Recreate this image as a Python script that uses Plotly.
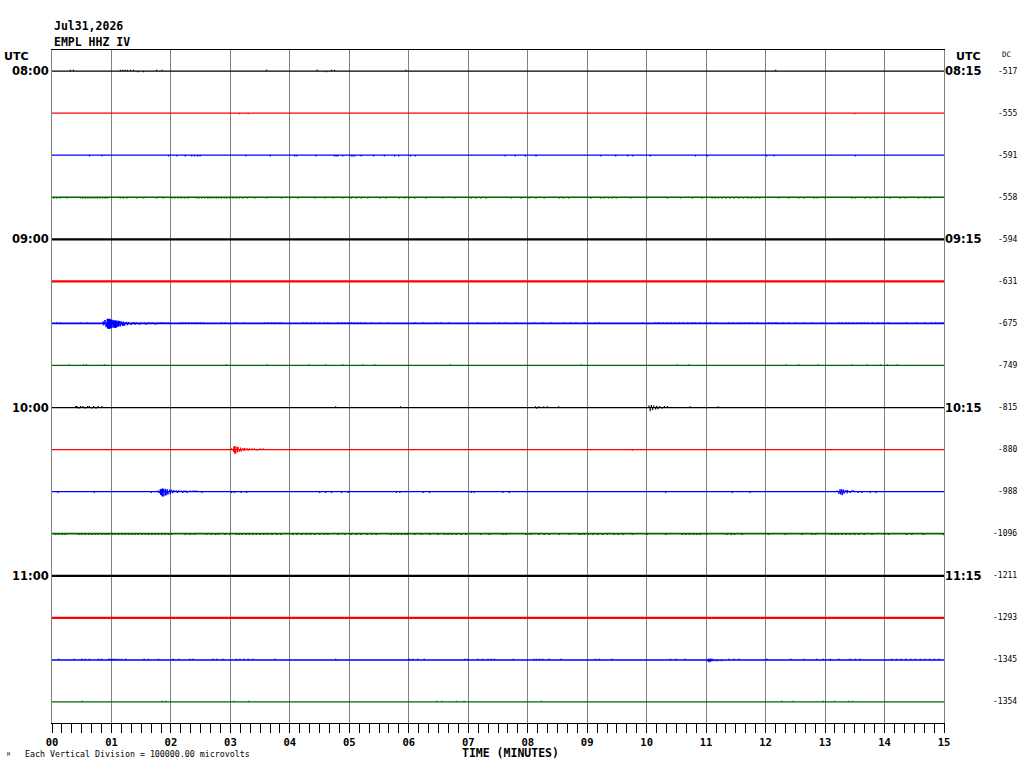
import plotly.graph_objects as go

# ---------------- data ----------------
DATE_TEXT = "Jul31,2026"
STATION_TEXT = "EMPL HHZ IV"
NOTE_TEXT = "Each Vertical Division = 100000.00 microvolts"
X_TITLE = "TIME (MINUTES)"
MICROVOLTS_PER_DIV = 100000
N_ROWS = 16
N_MINUTES = 15

LEFT_LABEL_ROWS = [0, 4, 8, 12]
LEFT_LABELS = ["08:00", "09:00", "10:00", "11:00"]
RIGHT_LABELS = ["08:15", "09:15", "10:15", "11:15"]
DC_VALUES = [-517, -555, -591, -558, -594, -631, -675, -749,
             -815, -880, -988, -1096, -1211, -1293, -1345, -1354]
MINUTE_TICKS = list(range(16))
MINUTE_LABELS = ["00", "01", "02", "03", "04", "05", "06", "07",
                 "08", "09", "10", "11", "12", "13", "14", "15"]

# trace excursions per row: (minute, microvolts)
TRACE_0800 = [(0.31, 3000), (0.36, 3000), (1.15, 3000), (1.19, 3000), (1.23, 3000),
              (1.27, 3000), (1.32, 3000), (1.37, 3000), (1.44, -3000), (1.54, -3000),
              (1.76, 3000), (1.85, 3000), (3.61, 3000), (4.46, 3000), (4.61, -3000),
              (4.70, 3000), (4.75, 3000), (5.95, 3000), (12.17, 3000)]
TRACE_0815 = [(3.15, -3000), (3.30, -3000), (13.50, -3000)]
TRACE_0830 = [(t, -3000) for t in [
    0.63, 0.84, 1.96, 2.10, 2.24, 2.35, 2.40, 2.45, 2.49, 3.26, 3.67, 4.08, 4.12, 4.44,
    4.75, 4.78, 4.81, 4.89, 5.03, 5.06, 5.09, 5.20, 5.41, 5.59, 5.76, 5.83, 6.03, 6.11,
    7.62, 7.79, 7.96, 8.14, 9.23, 9.48, 9.68, 9.77, 10.06, 10.82, 11.02, 12.02, 12.14, 13.51]]
TRACE_0845 = [(t, -2800) for t in [
    0.03, 0.08, 0.14, 0.25, 0.48, 0.52, 0.56, 0.60, 0.64, 0.68, 0.72, 0.76, 0.80, 0.85,
    0.89, 0.93, 1.15, 1.20, 1.26, 1.43, 1.54, 1.76, 1.87, 2.01, 2.06, 2.12, 2.17, 2.23,
    2.29, 2.43, 2.47, 2.52, 2.57, 2.62, 2.66, 2.71, 2.76, 2.80, 2.85, 2.90, 2.94, 2.99,
    3.05, 3.10, 3.15, 3.21, 3.28, 3.41, 3.61, 3.86, 4.00, 4.14, 4.42, 4.59, 4.73, 4.89,
    5.03, 5.12, 5.20, 5.31, 5.51, 5.62, 5.84, 5.93, 6.01, 6.10, 6.29, 6.57, 6.77, 7.05,
    7.13, 7.21, 7.30, 7.72, 7.89, 8.03, 8.14, 8.28, 8.53, 8.60, 8.69, 9.06, 9.23, 9.29,
    9.36, 9.42, 9.49, 9.73, 10.01, 10.35, 10.57, 10.77, 10.93, 11.10, 11.15, 11.20,
    11.27, 11.33, 11.40, 11.47, 11.55, 11.62, 11.70, 11.76, 11.83, 11.90, 12.22, 12.39,
    12.56, 12.64, 12.81, 12.87, 13.00, 13.45, 13.51, 13.67, 13.76, 13.87, 14.09, 14.26,
    14.35, 14.57, 14.68, 14.76]]
TRACE_0900 = [(0.5, -2400), (2.3, 2400), (4.1, -2400), (6.9, 2400), (9.4, -2400), (12.6, 2400)]
TRACE_0915 = [(0.2, -2400), (1.8, 2400), (3.4, -2400), (7.2, -2400), (10.8, 2400), (13.9, -2400)]
TRACE_0930 = [(0.86, 4500), (0.87, -4500), (0.89, 8000), (0.91, -9000), (0.93, 11000),
              (0.94, -12500), (0.95, 11000), (0.96, -13000), (0.97, 11000), (0.98, -12500),
              (0.99, 9000), (1.00, -11000), (1.01, 8500), (1.03, -10000), (1.04, 7500),
              (1.05, -10500), (1.06, 7500), (1.07, -11000), (1.08, 7000), (1.09, -9000),
              (1.11, 6500), (1.12, -7500), (1.13, 5500), (1.15, -7000), (1.16, 5000),
              (1.19, -6000), (1.20, 4500), (1.22, -5500), (1.25, 4000), (1.27, -4500),
              (1.29, 3500), (1.33, -3500), (1.37, 3500), (1.40, -3000), (1.42, 3000),
              (1.47, -3000), (1.50, 3000), (1.55, 3000), (1.58, -3000), (1.62, 3000),
              (1.66, 3000), (1.70, 3000), (1.74, -3000), (1.78, 3000), (1.82, 3000),
              (1.85, 3000), (1.88, 3000), (1.92, 3000), (1.96, 3000)] + \
             [(t, 3000) for t in [
    0.08, 0.14, 0.48, 0.59, 2.15, 2.20, 2.25, 2.30, 2.35, 2.40, 2.45, 2.50, 2.55, 2.85,
    2.91, 3.10, 3.22, 3.58, 3.63, 3.69, 3.75, 3.81, 3.86, 4.22, 4.28, 4.36, 4.42, 4.50,
    4.58, 4.64, 4.81, 4.87, 4.92, 4.98, 5.03, 5.09, 5.15, 5.20, 5.26, 5.37, 5.51, 5.65,
    6.10, 6.24, 6.46, 6.54, 6.68, 7.16, 7.44, 7.52, 7.63, 7.80, 8.11, 8.25, 8.39, 8.61,
    8.72, 8.81, 8.95, 9.14, 9.20, 9.93, 10.15, 10.21, 10.28, 10.35, 10.41, 10.48, 10.55,
    10.62, 10.69, 10.77, 10.82, 10.90, 10.99, 11.07, 11.16, 11.38, 11.45, 11.53, 11.59,
    11.66, 11.72, 11.78, 11.86, 12.05, 12.10, 12.16, 12.20, 12.29, 12.39, 12.50, 12.64,
    12.78, 12.95, 13.23, 13.29, 13.35, 13.41, 13.47, 13.54, 13.60, 13.66, 13.72, 13.80,
    13.89, 13.97, 14.06, 14.37, 14.54, 14.68, 14.79, 14.86, 14.93, 14.98]]
TRACE_0945 = [(t, 3000) for t in [
    0.29, 0.53, 0.58, 0.88, 2.93, 3.62, 4.32, 4.60, 4.89, 5.23, 5.43, 6.70, 8.90, 10.51,
    10.71, 12.34, 12.56, 12.88, 13.46, 13.71, 13.93, 14.05, 14.21]]
TRACE_1000 = [(0.40, 3500), (0.42, 3500), (0.45, -3000), (0.48, 3500), (0.52, 3500),
              (0.56, -3000), (0.60, 3500), (0.63, 3500), (0.67, -3000), (0.70, 3500),
              (0.74, -3000), (0.78, 3500), (0.84, 3500), (4.77, 3000), (5.86, 3000),
              (8.13, 3000), (8.15, -3000), (8.19, 3000), (8.27, 3000), (8.33, 3000),
              (8.52, 3000), (10.04, 5000), (10.06, -9000), (10.08, 6000), (10.10, -6000),
              (10.12, 5000), (10.15, -4500), (10.17, 4000), (10.19, -4000), (10.22, 3500),
              (10.26, -3000), (10.30, 3500), (10.35, 3500), (10.73, 3000), (11.20, 3000)]
TRACE_1015 = [(3.02, 3000), (3.05, -5000), (3.06, 8000), (3.07, -9500), (3.08, 8500),
              (3.09, -9000), (3.11, 7000), (3.12, -6500), (3.13, 6000), (3.15, -5000),
              (3.17, 5000), (3.18, -5000), (3.21, 4000), (3.23, -3500), (3.24, 3500),
              (3.28, 3500), (3.30, -3000), (3.32, 3000), (3.36, 3000), (3.40, 3000),
              (3.45, -3000), (3.50, 3000), (3.55, 3000), (9.76, -3000)]
TRACE_1030 = [(0.10, -3000), (0.71, -3000), (1.67, -3000), (1.78, 3000), (1.80, -4000),
              (1.82, 6000), (1.83, -8000), (1.84, 7000), (1.85, -11000), (1.86, 7500),
              (1.87, -12000), (1.88, 7000), (1.90, -9500), (1.91, 6500), (1.92, -8500),
              (1.94, 5500), (1.95, -7000), (1.98, 5000), (1.99, -6000), (2.01, 4500),
              (2.03, -4000), (2.05, 4000), (2.09, 3500), (2.11, -3000), (2.13, 3500),
              (2.17, 3000), (2.20, -3000), (2.22, 3000), (2.25, 3000), (2.27, -3000),
              (2.32, 3000), (2.37, 3000), (2.40, 3000), (2.43, 3000), (2.52, -3000),
              (3.02, -3000), (3.07, -3000), (3.18, -3000), (3.27, -3000), (4.50, -3000),
              (4.60, -3000), (4.70, -3000), (4.87, -3000), (4.98, -3000), (5.79, -3000),
              (5.85, -3000), (6.24, -3000), (6.35, -3000), (7.05, -3000), (7.10, -3000),
              (7.58, -3000), (7.69, -3000), (10.32, -3000), (11.44, -3000), (11.74, -3000),
              (13.20, 3000), (13.23, -5000), (13.25, 6000), (13.26, -6500), (13.28, 6000),
              (13.29, -8500), (13.31, 5000), (13.32, -5000), (13.35, 4000), (13.37, -4000),
              (13.38, 3500), (13.42, -3000), (13.45, 3500), (13.48, 3500), (13.56, -3000),
              (13.62, -3000), (13.76, -3000), (13.86, -3000)]
TRACE_1045 = [(t, -2800) for t in [
    0.06, 0.11, 0.17, 0.22, 0.45, 0.50, 0.56, 0.62, 0.67, 0.73, 0.78, 0.84, 0.90, 0.95,
    1.01, 1.06, 1.12, 1.18, 1.23, 1.29, 1.34, 1.40, 1.45, 1.51, 1.57, 1.62, 1.68, 1.74,
    1.79, 1.85, 1.90, 1.96, 2.01, 2.24, 2.32, 2.40, 2.60, 2.68, 2.75, 2.80, 2.91, 2.99,
    3.10, 3.15, 3.20, 3.26, 3.32, 3.38, 3.44, 3.50, 3.56, 3.62, 3.70, 3.78, 3.85, 4.05,
    4.12, 4.20, 4.28, 4.35, 4.42, 4.50, 4.58, 4.64, 4.81, 4.92, 5.03, 5.12, 5.20, 5.30,
    5.38, 5.45, 5.70, 5.76, 5.82, 5.88, 5.94, 5.98, 6.10, 6.21, 6.35, 6.49, 6.60, 6.66,
    6.72, 6.80, 6.88, 6.96, 7.21, 7.35, 7.58, 7.63, 7.97, 8.05, 8.19, 8.28, 8.36, 8.53,
    8.70, 8.86, 8.90, 8.95, 9.02, 9.10, 9.18, 9.26, 9.34, 9.45, 9.52, 9.60, 9.76, 10.01,
    10.32, 10.60, 10.66, 10.72, 10.79, 10.85, 10.90, 11.01, 11.35, 11.42, 11.48, 11.60,
    12.05, 12.33, 12.61, 12.78, 12.84, 13.11, 13.17, 13.22, 13.28, 13.35, 13.42, 13.50,
    13.57, 13.66, 13.79, 14.00, 14.07, 14.37, 14.46, 14.65, 14.99]]
TRACE_1100 = [(0.9, 2400), (2.7, -2400), (5.5, 2400), (8.4, -2400), (11.1, 2400), (13.3, -2400)]
TRACE_1115 = [(1.1, -2400), (3.9, 2400), (6.2, -2400), (9.9, 2400), (12.2, -2400), (14.4, 2400)]
TRACE_1130 = [(t, 3000) for t in [
    0.11, 0.37, 0.50, 0.56, 0.63, 0.78, 0.83, 0.95, 0.98, 1.01, 1.04, 1.08, 1.12, 1.17,
    1.24, 1.55, 1.62, 1.79, 2.04, 2.13, 2.32, 2.37, 2.71, 2.77, 2.87, 3.10, 3.16, 3.23,
    3.30, 3.38, 3.75, 4.77, 6.01, 6.07, 6.15, 6.26, 6.94, 6.99, 7.16, 7.24, 7.33, 7.38,
    7.44, 7.76, 8.11, 8.15, 8.20, 8.25, 8.36, 8.56, 9.14, 9.20, 9.42, 10.40, 10.49,
    10.64, 11.38, 11.47, 11.55, 12.02, 12.42, 12.64, 12.86, 12.97, 13.09, 13.23, 13.42,
    13.51, 13.59, 14.12, 14.20, 14.28, 14.36, 14.44, 14.52, 14.60, 14.68, 14.76, 14.84,
    14.92]] + [(11.02, -3000), (11.04, 3000), (11.05, -5500), (11.07, 3000), (11.08, -4000),
               (11.10, 3000), (11.12, -3000), (11.16, -3000), (11.20, -3000), (11.26, -3000)]
TRACE_1145 = [(t, 3000) for t in [
    0.51, 1.85, 1.91, 3.06, 3.31, 6.47, 6.56, 6.80, 6.93, 8.23, 12.27, 12.46, 12.97,
    13.16, 13.40, 13.46]]

ROW_POINTS = [TRACE_0800, TRACE_0815, TRACE_0830, TRACE_0845,
              TRACE_0900, TRACE_0915, TRACE_0930, TRACE_0945,
              TRACE_1000, TRACE_1015, TRACE_1030, TRACE_1045,
              TRACE_1100, TRACE_1115, TRACE_1130, TRACE_1145]

# ---------------- styles ----------------
ROW_COLORS = ["#000000", "#ff0000", "#0000ff", "#006600"]
LINE_WIDTHS = [1.2, 1.2, 1.3, 1.6, 2.3, 2.3, 1.6, 1.2,
               1.2, 1.2, 1.3, 1.7, 2.3, 2.3, 1.5, 1.2]
GRID_GRAY = "#808080"
BOLD_SANS = "DejaVu Sans"
MONO = "DejaVu Sans Mono"

fig = go.Figure()
for r in range(N_ROWS):
    base = -r * MICROVOLTS_PER_DIV
    xs, ys = [0], [base]
    for t, a in sorted(ROW_POINTS[r]):
        xs += [t, t, t]
        ys += [base, base + a, base]
    xs.append(N_MINUTES)
    ys.append(base)
    fig.add_trace(go.Scatter(
        x=xs, y=ys, mode="lines",
        line=dict(color=ROW_COLORS[r % 4], width=LINE_WIDTHS[r]),
        hoverinfo="skip", showlegend=False, cliponaxis=True))

yr = [-(N_ROWS - 0.5) * MICROVOLTS_PER_DIV, 0.5 * MICROVOLTS_PER_DIV]
label_vals = [-i * MICROVOLTS_PER_DIV for i in LEFT_LABEL_ROWS]

fig.update_layout(
    width=1024, height=768,
    margin=dict(l=50, r=80, t=50, b=45),
    paper_bgcolor="white", plot_bgcolor="white",
    showlegend=False,
    xaxis=dict(
        range=[0, N_MINUTES], tickmode="array",
        tickvals=MINUTE_TICKS, ticktext=MINUTE_LABELS,
        ticks="outside", ticklen=9, tickwidth=1, tickcolor="black",
        minor=dict(dtick=1 / 6, tick0=0, ticks="outside", ticklen=9,
                   tickwidth=1, tickcolor="black", showgrid=False),
        showgrid=True, gridcolor=GRID_GRAY, gridwidth=1,
        showline=True, linecolor="black", linewidth=1, mirror=True,
        zeroline=False,
        tickfont=dict(family=MONO, size=10.5, color="black", weight="bold"),
    ),
    yaxis=dict(
        range=yr, tickmode="array", tickvals=label_vals, ticktext=LEFT_LABELS,
        ticks="", showgrid=False, zeroline=False,
        showline=True, linecolor=GRID_GRAY, linewidth=1, mirror=True,
        tickfont=dict(family=BOLD_SANS, size=11.5, color="black", weight="bold"),
    ),
    yaxis2=dict(
        range=yr, overlaying="y", side="right", tickmode="array",
        tickvals=label_vals, ticktext=RIGHT_LABELS,
        ticks="", showgrid=False, zeroline=False, showline=False,
        tickfont=dict(family=BOLD_SANS, size=11.5, color="black", weight="bold"),
    ),
)

# keep yaxis2 alive with an invisible trace
fig.add_trace(go.Scatter(x=[0], y=[0], yaxis="y2", mode="markers",
                         marker=dict(opacity=0), hoverinfo="skip", showlegend=False))

ann = []
ann.append(dict(text=DATE_TEXT, xref="paper", yref="paper", x=0, y=1.0357,
                xanchor="left", yanchor="middle", showarrow=False,
                font=dict(family=MONO, size=11.5, color="black", weight="bold")))
ann.append(dict(text=STATION_TEXT, xref="paper", yref="paper", x=0, y=1.0114,
                xanchor="left", yanchor="middle", showarrow=False,
                font=dict(family=MONO, size=11.5, color="black", weight="bold")))
ann.append(dict(text="UTC", xref="paper", yref="paper", x=-0.0559, y=0.990,
                xanchor="left", yanchor="middle", showarrow=False,
                font=dict(family=BOLD_SANS, size=11, color="black", weight="bold")))
ann.append(dict(text="UTC", xref="paper", yref="paper", x=1.0274, y=0.990,
                xanchor="center", yanchor="middle", showarrow=False,
                font=dict(family=BOLD_SANS, size=11, color="black", weight="bold")))
ann.append(dict(text="DC", xref="paper", yref="paper", x=1.0626, y=0.994,
                xanchor="left", yanchor="middle", showarrow=False,
                font=dict(family=MONO, size=7.5, color="black")))
for r, v in enumerate(DC_VALUES):
    ann.append(dict(text=str(v), xref="paper", yref="y", x=1.0839,
                    y=-r * MICROVOLTS_PER_DIV, xanchor="right", yanchor="middle",
                    showarrow=False, font=dict(family=MONO, size=8, color="black")))
ann.append(dict(text=X_TITLE, xref="paper", yref="paper", x=0.514, y=-0.0440,
                xanchor="center", yanchor="middle", showarrow=False,
                font=dict(family=MONO, size=11.5, color="black", weight="bold")))
ann.append(dict(text=NOTE_TEXT, xref="paper", yref="paper", x=-0.0328, y=-0.0456,
                xanchor="left", yanchor="middle", showarrow=False,
                font=dict(family=MONO, size=8.3, color="black")))
ann.append(dict(text="M", xref="paper", yref="paper", x=-0.0526, y=-0.0456,
                xanchor="left", yanchor="middle", showarrow=False,
                font=dict(family=MONO, size=5, color="black")))
fig.update_layout(annotations=ann)

fig.write_html(
    "out.html",
    config={"displayModeBar": False, "staticPlot": True},
    post_script="document.body.style.margin='0';document.body.style.overflow='hidden';",
)
